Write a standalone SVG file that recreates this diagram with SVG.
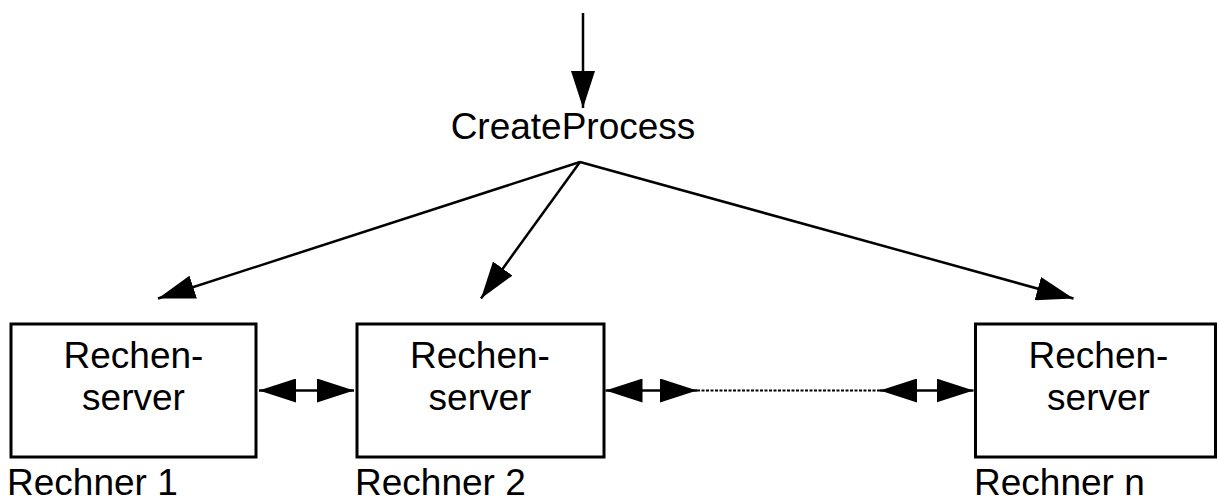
<svg xmlns="http://www.w3.org/2000/svg" width="1218" height="499" viewBox="0 0 1218 499">
  <style>
    .box { fill: #ffffff; stroke: #000000; stroke-width: 3; }
    .lbl { font-family: "Liberation Sans", Arial, sans-serif; font-size: 37px; fill: #000000; }
    .mid { text-anchor: middle; }
    .wire { stroke: #000000; stroke-width: 2.5; fill: none; }
    .dots { stroke: #000000; stroke-width: 2; stroke-dasharray: 3 1.5; fill: none; }
  </style>
  <defs>
    <marker id="head" markerUnits="userSpaceOnUse" markerWidth="38" markerHeight="24" refX="37" refY="12" orient="auto-start-reverse" viewBox="0 0 38 24">
      <path d="M0,0 L37,12 L0,24 Z" fill="#000000"/>
    </marker>
  </defs>
  <rect width="1218" height="499" fill="#ffffff"/>

  <!-- entry point -->
  <g id="create-process">
    <text class="lbl mid" x="573" y="139">CreateProcess</text>
  </g>

  <!-- compute servers -->
  <g id="server-1">
    <rect class="box" x="11" y="324" width="245" height="133"/>
    <text class="lbl mid" x="133.5" y="368">Rechen-</text>
    <text class="lbl mid" x="133.5" y="410">server</text>
    <text class="lbl" x="7" y="495">Rechner 1</text>
  </g>
  <g id="server-2">
    <rect class="box" x="357" y="324" width="247" height="133"/>
    <text class="lbl mid" x="480" y="368">Rechen-</text>
    <text class="lbl mid" x="480" y="410">server</text>
    <text class="lbl" x="355" y="495">Rechner 2</text>
  </g>
  <g id="server-n">
    <rect class="box" x="975.5" y="324" width="240" height="133"/>
    <text class="lbl mid" x="1098.5" y="368">Rechen-</text>
    <text class="lbl mid" x="1098.5" y="410">server</text>
    <text class="lbl" x="974" y="495">Rechner n</text>
  </g>

  <!-- connectors -->
  <g id="connectors">
    <line class="wire" x1="583" y1="13" x2="583" y2="108" marker-end="url(#head)"/>
    <line class="wire" x1="580" y1="162" x2="158" y2="298.5" marker-end="url(#head)"/>
    <line class="wire" x1="580" y1="162" x2="481" y2="298.5" marker-end="url(#head)"/>
    <line class="wire" x1="580" y1="162" x2="1073.5" y2="298.5" marker-end="url(#head)"/>
    <line class="wire" x1="259" y1="390.5" x2="354" y2="390.5" marker-start="url(#head)" marker-end="url(#head)"/>
    <line class="wire" x1="605.5" y1="390.5" x2="697" y2="390.5" marker-start="url(#head)" marker-end="url(#head)"/>
    <line class="dots" x1="697" y1="390.5" x2="880" y2="390.5"/>
    <line class="wire" x1="880" y1="390.5" x2="973.5" y2="390.5" marker-start="url(#head)" marker-end="url(#head)"/>
  </g>
</svg>
